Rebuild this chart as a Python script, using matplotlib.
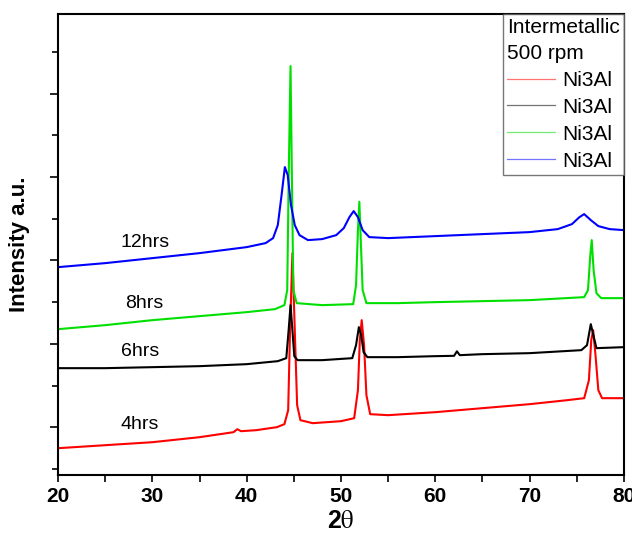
import matplotlib
matplotlib.use('Agg')
import matplotlib.pyplot as plt
from matplotlib.lines import Line2D
from matplotlib.ticker import MultipleLocator

plt.rcParams['font.family'] = ['Liberation Sans', 'DejaVu Sans']
plt.rcParams['mathtext.fontset'] = 'stix'

# 2-theta / intensity points for each milling time
two_theta_4h = [20.0, 25.0, 30.0, 35.0, 38.6, 39.0, 39.4, 41.0, 43.2, 44.0, 44.4, 44.6, 44.85, 45.1,
                45.35, 45.7, 47.0, 50.0, 51.4, 51.8, 52.0, 52.2, 52.45, 52.7, 53.1, 55.0, 60.0,
                65.0, 70.0, 74.0, 75.8, 76.3, 76.55, 76.75, 77.0, 77.3, 77.7, 80.0]
counts_4h = [748, 784, 820, 880, 940, 976, 952, 964, 1000, 1036, 1204, 2164, 3088, 2164,
             1264, 1084, 1048, 1072, 1108, 1444, 2044, 2284, 1984, 1384, 1156, 1144, 1180,
             1228, 1276, 1324, 1348, 1564, 2044, 2164, 1864, 1444, 1348, 1348]

two_theta_6h = [20.0, 25.0, 30.0, 35.0, 40.0, 43.3, 44.2, 44.45, 44.65, 44.85, 45.05, 45.4, 48.0,
                51.2, 51.6, 51.9, 52.15, 52.4, 52.8, 56.0, 60.0, 62.0, 62.3, 62.6, 65.0, 70.0,
                75.5, 76.1, 76.5, 76.8, 77.1, 80.0]
counts_6h = [1708, 1708, 1720, 1732, 1756, 1792, 1828, 2164, 2464, 2164, 1852, 1804, 1804,
             1828, 1984, 2200, 2104, 1900, 1840, 1840, 1852, 1856, 1910, 1864, 1876, 1888,
             1924, 1984, 2236, 2092, 1948, 1960]

two_theta_8h = [20.0, 25.0, 30.0, 35.0, 40.0, 43.0, 44.0, 44.3, 44.45, 44.65, 44.8, 44.95, 45.3,
                48.0, 51.3, 51.6, 51.8, 51.95, 52.1, 52.3, 52.7, 56.0, 60.0, 65.0, 70.0, 75.8,
                76.2, 76.45, 76.6, 76.8, 77.1, 77.6, 80.0]
counts_8h = [2176, 2224, 2284, 2332, 2380, 2416, 2464, 2644, 3964, 5332, 3964, 2644, 2488,
             2464, 2476, 2704, 3364, 3704, 3244, 2644, 2488, 2488, 2500, 2512, 2524, 2560,
             2644, 3064, 3244, 2884, 2608, 2548, 2548]

two_theta_12h = [20.0, 25.0, 30.0, 35.0, 40.0, 42.0, 42.8, 43.3, 43.7, 44.05, 44.35, 44.7, 45.1,
                 45.6, 46.5, 48.0, 49.5, 50.3, 50.9, 51.35, 51.8, 52.3, 53.0, 55.0, 60.0, 65.0,
                 70.0, 73.0, 74.5, 75.3, 75.8, 76.5, 77.3, 78.5, 80.0]
counts_12h = [2920, 2968, 3028, 3088, 3160, 3208, 3268, 3424, 3784, 4120, 4024, 3664, 3424,
              3304, 3244, 3256, 3304, 3388, 3520, 3592, 3520, 3364, 3280, 3268, 3292, 3316,
              3340, 3376, 3436, 3520, 3556, 3484, 3412, 3376, 3364]

series = [
    (two_theta_4h, counts_4h, '#ff0000'),
    (two_theta_6h, counts_6h, '#000000'),
    (two_theta_8h, counts_8h, '#00e000'),
    (two_theta_12h, counts_12h, '#0000ff'),
]
legend_labels = ['Ni3Al', 'Ni3Al', 'Ni3Al', 'Ni3Al']

# time labels sitting on the left of each trace
time_labels = ['4hrs', '6hrs', '8hrs', '12hrs']
time_label_x = [26.6, 26.7, 27.1, 26.6]
time_label_y = [1036, 1912, 2488, 3220]

fig = plt.figure(figsize=(6.32, 5.40), dpi=100)
ax = fig.add_axes([0.092, 0.12, 0.895, 0.854])

for tt, cnt, clr in series:
    ax.plot(tt, cnt, color=clr, linewidth=1.5)

for lbl, lx, ly in zip(time_labels, time_label_x, time_label_y):
    ax.text(lx, ly, lbl, fontsize=14, va='center', ha='left')

ax.set_xlim(20, 80)
ax.set_ylim(424, 5956)
ax.xaxis.set_major_locator(MultipleLocator(10))
ax.xaxis.set_minor_locator(MultipleLocator(5))
ax.yaxis.set_major_locator(MultipleLocator(1000))
ax.yaxis.set_minor_locator(MultipleLocator(500))
ax.tick_params(axis='y', which='both', labelleft=False, direction='out', width=1.2)
ax.tick_params(axis='y', which='major', length=6)
ax.tick_params(axis='y', which='minor', length=4)
ax.tick_params(axis='x', which='both', direction='out', width=1.2, length=5)
for lab in ax.get_xticklabels():
    lab.set_fontweight('bold')
    lab.set_fontsize(15)
for sp in ax.spines.values():
    sp.set_linewidth(1.5)

ax.set_xlabel('2$\\mathrm{\\theta}$', fontsize=18, fontweight='bold', labelpad=2)
ax.set_ylabel('Intensity a.u.', fontsize=16, fontweight='bold', labelpad=14)

handles = [Line2D([], [], color=clr, linewidth=0.9, alpha=0.55) for _, _, clr in series]
leg = ax.legend(handles, legend_labels, title='Intermetallic\n500 rpm', loc='upper right',
                fontsize=15, title_fontsize=15, frameon=True, fancybox=False,
                borderaxespad=0, handlelength=2.3, handletextpad=0.35, borderpad=0.2,
                labelspacing=0.38, alignment='left')
leg.get_frame().set_edgecolor('#555555')
leg.get_frame().set_linewidth(1.0)
leg.get_title().set_linespacing(1.45)

plt.savefig('out.png', dpi=100)
plt.close()
